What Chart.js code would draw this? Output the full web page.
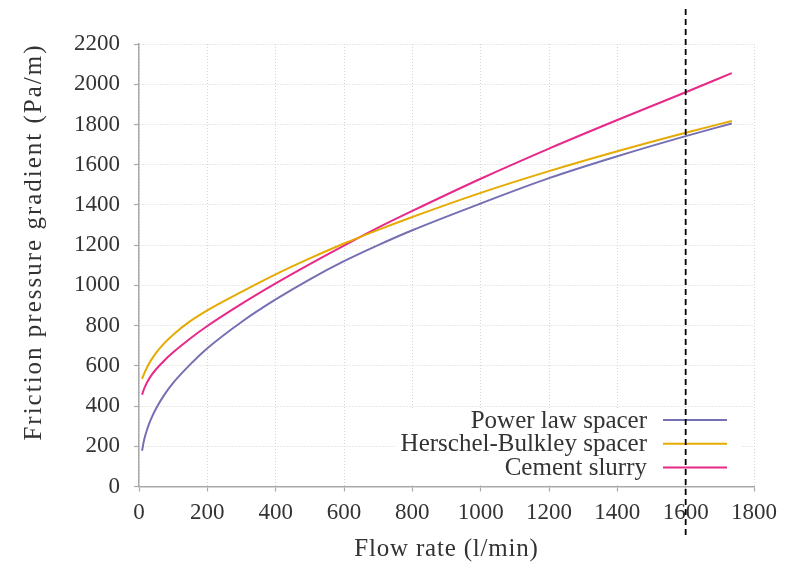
<!DOCTYPE html>
<html>
<head>
<meta charset="utf-8">
<script src="https://cdn.jsdelivr.net/npm/chart.js@4.4.1/dist/chart.umd.min.js"></script>
<style>
  html, body { margin: 0; padding: 0; background: #fff; }
  #grafico { display: block; }
</style>
</head>
<body>
<canvas id="grafico" width="790" height="563"></canvas>
<script>
// flow rate (l/min) sampled along the curves
const flowRate = [9, 15, 25, 35, 50, 75, 100, 150, 200, 300, 400, 500, 600, 700, 800, 1000, 1200, 1400, 1600, 1735];
// friction pressure gradient (Pa/m)
const powerLaw = [178, 232, 290, 335, 388, 458, 515, 607, 687, 818, 930, 1030, 1120, 1200, 1274, 1407, 1533, 1642, 1742, 1805];
const herschelBulkley = [535, 561, 597, 627, 664, 714, 755, 822, 876, 968, 1055, 1134, 1208, 1276, 1340, 1460, 1568, 1667, 1759, 1817];
const cementSlurry = [456, 486, 522, 550, 583, 628, 667, 736, 798, 908, 1010, 1106, 1198, 1287, 1370, 1530, 1680, 1822, 1960, 2055];

const seriesNames = ["Power law spacer", "Herschel-Bulkley spacer", "Cement slurry"];
const seriesColors = ["#7570b3", "#e6ab02", "#e7298a"];
const limitFlow = 1600;

const xTicks = [0, 200, 400, 600, 800, 1000, 1200, 1400, 1600, 1800];
const yTicks = [0, 200, 400, 600, 800, 1000, 1200, 1400, 1600, 1800, 2000, 2200];

const xTitle = "Flow rate (l/min)";
const yTitle = "Friction pressure gradient (Pa/m)";

const serif = "'Liberation Serif', 'Times New Roman', serif";
const textColor = "#333";

const toPoints = (ys) => flowRate.map((x, i) => ({ x, y: ys[i] }));

// legend inside the plot (text left of the sample), limit line, axis titles
const extras = {
  id: "extras",
  beforeDatasetsDraw(chart) {
    const { ctx, chartArea } = chart;
    ctx.save();
    ctx.fillStyle = "#fff";
    ctx.fillRect(395, 408, 346, chartArea.bottom - 410);
    ctx.font = "25px " + serif;
    ctx.fillStyle = textColor;
    ctx.textAlign = "right";
    ctx.textBaseline = "middle";
    seriesNames.forEach((name, i) => {
      const y = 420 + i * 23.8;
      ctx.fillText(name, 647, y + 1);
      ctx.strokeStyle = seriesColors[i];
      ctx.lineWidth = 2;
      ctx.beginPath();
      ctx.moveTo(663, y);
      ctx.lineTo(727, y);
      ctx.stroke();
    });
    ctx.restore();
  },
  afterDatasetsDraw(chart) {
    const { ctx, chartArea, scales } = chart;
    const px = scales.x.getPixelForValue(limitFlow);
    ctx.save();
    ctx.strokeStyle = "#000";
    ctx.lineWidth = 1.8;
    ctx.setLineDash([6, 4]);
    ctx.beginPath();
    ctx.moveTo(px, chartArea.top - 35);
    ctx.lineTo(px, chartArea.bottom + 51);
    ctx.stroke();
    ctx.restore();
  },
  afterDraw(chart) {
    const { ctx, chartArea } = chart;
    ctx.save();
    ctx.font = "25px " + serif;
    ctx.fillStyle = textColor;
    ctx.textAlign = "center";
    ctx.textBaseline = "middle";
    ctx.letterSpacing = "0.8px";
    ctx.fillText(xTitle, (chartArea.left + chartArea.right) / 2, 549);
    ctx.translate(34, 242);
    ctx.rotate(-Math.PI / 2);
    ctx.letterSpacing = "2px";
    ctx.fillText(yTitle, 0, 0);
    ctx.restore();
  },
};

const axisCommon = {
  type: "linear",
  grid: {
    color: "#d4d4d4",
    lineWidth: 1,
    tickColor: "#aaa",
    tickLength: 5,
    tickWidth: 1.2,
  },
  border: { color: "#aaa", width: 1.5, dash: [1, 2] },
  ticks: {
    font: { family: serif, size: 23 },
    color: textColor,
    callback: (v) => String(v),
  },
};

new Chart(document.getElementById("grafico").getContext("2d"), {
  type: "scatter",
  data: {
    datasets: [powerLaw, herschelBulkley, cementSlurry].map((ys, i) => ({
      label: seriesNames[i],
      data: toPoints(ys),
      showLine: true,
      borderColor: seriesColors[i],
      borderWidth: 2,
      pointRadius: 0,
      cubicInterpolationMode: "monotone",
      fill: false,
    })),
  },
  options: {
    responsive: false,
    animation: false,
    layout: { padding: { top: 44, right: 36, left: 0, bottom: 0 } },
    plugins: {
      legend: { display: false },
      tooltip: { enabled: false },
    },
    scales: {
      x: {
        ...axisCommon,
        min: 0,
        max: 1800,
        afterBuildTicks: (scale) => {
          scale.ticks = xTicks.map((value) => ({ value }));
        },
        afterFit: (scale) => {
          scale.height = 76.5;
        },
        ticks: { ...axisCommon.ticks, padding: 8, maxRotation: 0 },
      },
      y: {
        ...axisCommon,
        min: 0,
        max: 2200,
        afterBuildTicks: (scale) => {
          scale.ticks = yTicks.map((value) => ({ value }));
        },
        afterFit: (scale) => {
          scale.width = 139;
        },
        ticks: { ...axisCommon.ticks, padding: 14 },
      },
    },
  },
  plugins: [extras],
});
</script>
</body>
</html>
